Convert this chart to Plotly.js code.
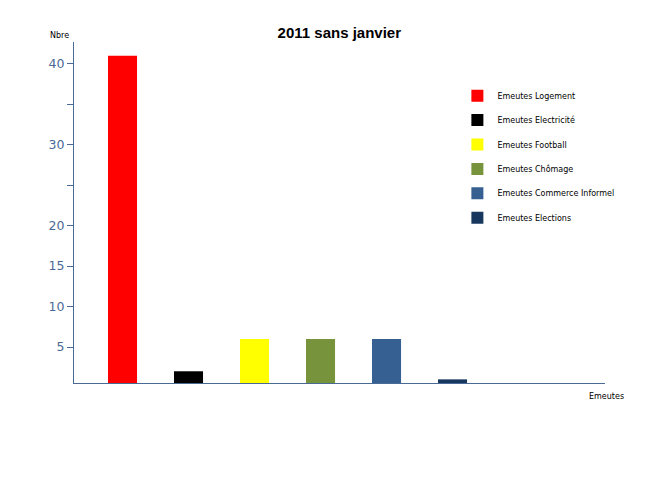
<!DOCTYPE html>
<html>
<head>
<meta charset="utf-8">
<script src="https://cdn.plot.ly/plotly-3.0.1.min.js"></script>
<style>html,body{margin:0;padding:0;background:#fff;}#chart{width:650px;height:488px;}</style>
</head>
<body>
<div id="chart"></div>
<script>
const categories = ["Emeutes Logement", "Emeutes Electricité", "Emeutes Football", "Emeutes Chômage", "Emeutes Commerce Informel", "Emeutes Elections"];
const values = [41, 2, 6, 6, 6, 1];
const colors = ["#FF0000", "#000000", "#FFFF00", "#77933C", "#366092", "#17375E"];
const tickVals = [5, 10, 15, 20, 25, 30, 35, 40];
const tickText = ["5", "10", "15", "20", "", "30", "", "40"];

const axisColor = "#4A6A96";
const yMin = 0.55;
const traces = categories.map((c, i) => ({
  type: "bar",
  name: c,
  x: [c],
  y: [values[i] - yMin],
  base: yMin,
  width: 0.44,
  marker: {color: colors[i]},
  legendgroup: "g" + i,
  hoverinfo: "skip"
}));

const layout = {
  width: 650, height: 488,
  margin: {l: 74, r: 45, t: 42, b: 105},
  paper_bgcolor: "#fff", plot_bgcolor: "#fff",
  barmode: "overlay",
  showlegend: true,
  title: {text: "<b>2011 sans janvier</b>", x: 0.522, xanchor: "center", y: 0.932, yanchor: "middle",
          font: {family: "Liberation Sans, Arial, sans-serif", size: 15, color: "#000"}},
  legend: {x: 0.722, xanchor: "left", y: 0.885, yanchor: "top", bgcolor: "rgba(0,0,0,0)",
           font: {family: "DejaVu Sans, sans-serif", size: 8, color: "#000"},
           tracegroupgap: 5.4, traceorder: "grouped"},
  xaxis: {type: "category", range: [-0.735, 7.31], showticklabels: false, ticks: "",
          showgrid: false, zeroline: false, showline: true, linecolor: axisColor, linewidth: 1,
          fixedrange: true},
  yaxis: {range: [yMin, 42.7], tickvals: tickVals, ticktext: tickText, ticks: "outside", ticklen: 6,
          tickcolor: axisColor, showgrid: false, zeroline: false, showline: true, linecolor: axisColor,
          linewidth: 1, tickfont: {family: "DejaVu Sans, sans-serif", size: 12.5, color: axisColor},
          fixedrange: true},
  annotations: [
    {text: "Nbre", xref: "paper", yref: "paper", x: -0.005, y: 1.0, xanchor: "right", yanchor: "bottom",
     showarrow: false, font: {family: "DejaVu Sans, sans-serif", size: 8, color: "#000"}},
    {text: "Emeutes", xref: "paper", yref: "paper", x: 1.04, y: -0.02, xanchor: "right", yanchor: "top",
     showarrow: false, font: {family: "DejaVu Sans, sans-serif", size: 8, color: "#000"}}
  ]
};
Plotly.newPlot("chart", traces, layout, {displayModeBar: false, staticPlot: true});
</script>
</body>
</html>
